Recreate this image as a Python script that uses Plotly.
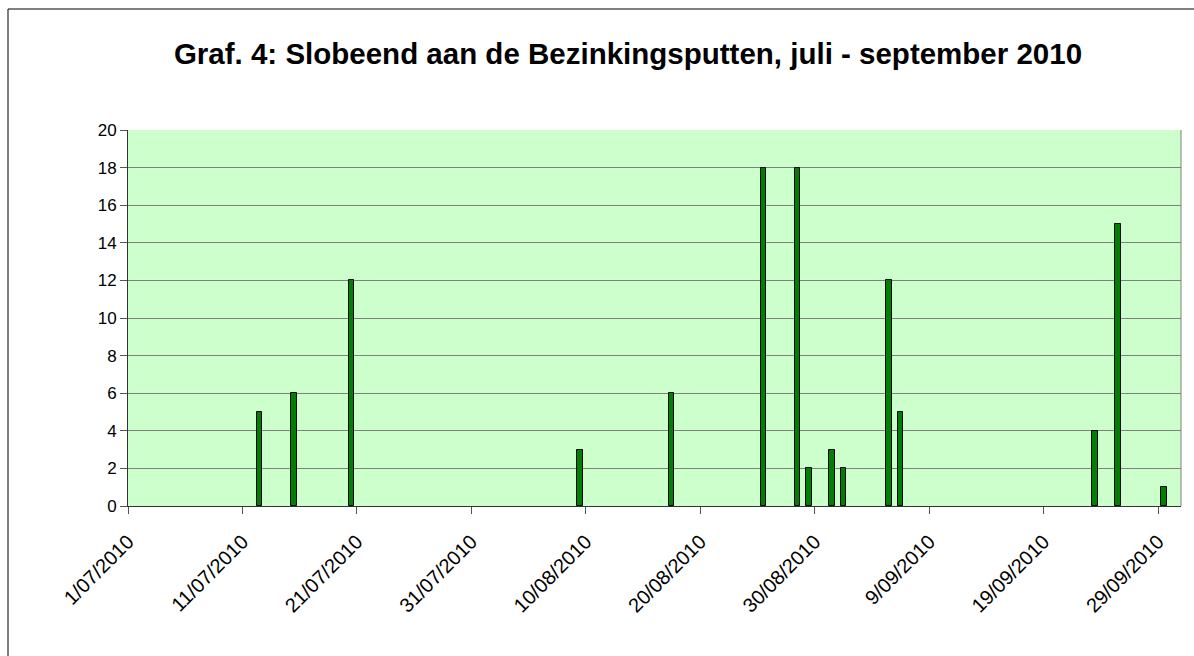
import plotly.graph_objects as go

# counts of Slobeend per observation date
dates = [
    "2010-07-12", "2010-07-15", "2010-07-20", "2010-08-09", "2010-08-17",
    "2010-08-25", "2010-08-28", "2010-08-29", "2010-08-31", "2010-09-01",
    "2010-09-05", "2010-09-06", "2010-09-23", "2010-09-25", "2010-09-29",
]
counts = [5, 6, 12, 3, 6, 18, 18, 2, 3, 2, 12, 5, 4, 15, 1]

title_text = "Graf. 4: Slobeend aan de Bezinkingsputten, juli - september 2010"

DAY = 86400000
W, H = 1194, 656
L, R, T, B = 128, 13, 130, 150
pw, ph = W - L - R, H - T - B

fig = go.Figure()
fig.add_trace(go.Bar(
    x=dates,
    y=counts,
    xperiod=DAY,
    xperiodalignment="middle",
    width=0.47 * DAY,
    marker=dict(color="#008000", line=dict(color="#000000", width=1)),
    showlegend=False,
))

fig.update_layout(
    width=W,
    height=H,
    margin=dict(l=L, r=R, t=T, b=B),
    paper_bgcolor="white",
    plot_bgcolor="#CCFFCC",
    font=dict(family="Liberation Sans, Arial, sans-serif", size=17, color="black"),
    title=dict(
        text="<b>" + title_text + "</b>",
        x=628 / W,
        xref="container",
        xanchor="center",
        y=1 - 54 / H,
        yref="container",
        yanchor="middle",
        font=dict(size=29.5),
    ),
    bargap=0,
)

fig.update_xaxes(
    type="date",
    range=["2010-07-01", "2010-10-01"],
    tick0="2010-07-01",
    dtick=10 * DAY,
    tickformat="%-d/%m/%Y",
    tickangle=-45,
    tickfont=dict(size=20),
    ticklabelstandoff=8,
    ticks="outside",
    ticklen=7,
    tickcolor="#555555",
    showgrid=False,
    showline=True,
    linecolor="#333333",
    linewidth=1,
    zeroline=False,
)
fig.update_yaxes(
    range=[0, 20],
    dtick=2,
    tickfont=dict(size=17),
    ticks="outside",
    ticklen=7,
    tickcolor="#555555",
    showgrid=True,
    gridcolor="#808080",
    gridwidth=1,
    showline=True,
    linecolor="#333333",
    linewidth=1,
    zeroline=False,
)

# right edge of plot area
fig.add_shape(type="line", xref="paper", yref="paper", x0=1, x1=1, y0=0, y1=1,
              line=dict(color="#808080", width=1))
# outer chart frame
fig.add_shape(type="rect", xref="paper", yref="paper",
              x0=(8 - L) / pw, x1=(W + 10 - L) / pw,
              y0=(H - B - H - 10) / ph, y1=(H - B - 9) / ph,
              line=dict(color="black", width=1), fillcolor="rgba(0,0,0,0)")

fig.write_html("out.html", config={"displayModeBar": False},
               post_script="document.body.style.margin='0px';")
